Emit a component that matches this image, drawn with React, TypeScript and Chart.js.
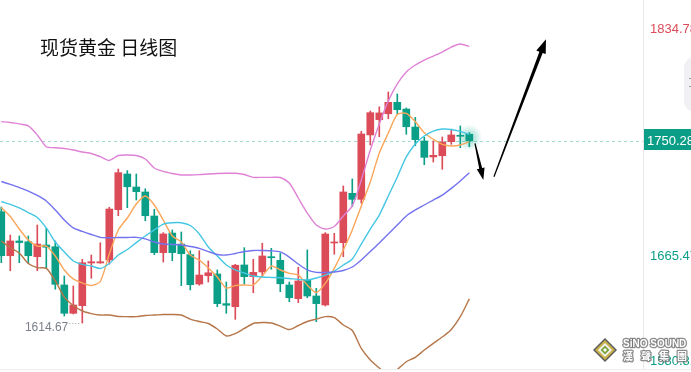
import React, { useEffect, useRef } from 'react';
import { Chart, registerables } from 'chart.js';

Chart.register(...registerables);

// ---- Data ----
const opens = [1697.6, 1664.8, 1675.8, 1675.2, 1664.1, 1672.8, 1671.5, 1643.0, 1621.9, 1627.6, 1659.4, 1659.4, 1661.6, 1699.1, 1725.7, 1716.0, 1712.3, 1694.4, 1667.1, 1681.7, 1673.5, 1665.6, 1643.7, 1649.9, 1651.2, 1629.1, 1626.8, 1657.9, 1649.2, 1652.7, 1664.1, 1661.4, 1643.0, 1632.8, 1646.7, 1634.8, 1628.1, 1674.3, 1674.5, 1711.3, 1706.8, 1754.8, 1766.2, 1770.6, 1779.1, 1774.1, 1760.7, 1750.3, 1738.4, 1739.3, 1749.8, 1754.5, 1755.3];
const closes = [1664.8, 1675.8, 1674.6, 1664.8, 1673.5, 1671.1, 1643.5, 1621.9, 1628.1, 1659.6, 1660.3, 1660.3, 1699.6, 1726.7, 1716.2, 1712.5, 1694.6, 1667.1, 1681.0, 1667.1, 1666.3, 1643.2, 1650.4, 1652.1, 1629.1, 1627.9, 1657.7, 1649.2, 1652.4, 1664.6, 1663.3, 1643.9, 1633.5, 1646.0, 1634.8, 1629.1, 1681.0, 1674.8, 1712.3, 1706.8, 1755.5, 1771.4, 1771.2, 1779.1, 1773.6, 1760.9, 1751.3, 1738.1, 1739.6, 1749.5, 1754.8, 1753.8, 1750.28];
const highs = [1701.1, 1680.2, 1679.5, 1679.5, 1687.7, 1685.2, 1675.8, 1649.7, 1642.2, 1662.1, 1665.3, 1674.5, 1700.9, 1729.4, 1728.2, 1725.7, 1714.7, 1699.4, 1682.0, 1684.0, 1682.5, 1668.5, 1668.5, 1660.9, 1654.2, 1645.2, 1658.4, 1670.8, 1662.1, 1674.1, 1670.3, 1666.6, 1645.2, 1656.2, 1669.1, 1640.5, 1682.0, 1681.5, 1716.8, 1722.0, 1757.5, 1772.6, 1775.8, 1786.8, 1785.3, 1774.9, 1767.9, 1753.0, 1750.3, 1753.3, 1759.0, 1761.5, 1756.5];
const lows = [1659.6, 1653.6, 1659.6, 1659.2, 1653.6, 1655.4, 1639.8, 1619.9, 1621.4, 1614.67, 1648.0, 1659.2, 1658.6, 1694.6, 1700.6, 1706.3, 1690.9, 1665.6, 1660.1, 1661.1, 1642.5, 1639.3, 1642.8, 1645.2, 1626.8, 1621.9, 1617.4, 1643.7, 1637.2, 1649.2, 1654.7, 1638.0, 1630.5, 1629.8, 1633.5, 1615.6, 1627.3, 1665.9, 1664.1, 1701.3, 1703.9, 1747.3, 1753.5, 1766.9, 1770.4, 1755.3, 1746.8, 1732.6, 1734.6, 1729.2, 1747.8, 1745.3, 1746.0];

const ma5 = [1700.7, 1694.0, 1684.7, 1676.5, 1672.0, 1672.0, 1664.6, 1654.2, 1647.5, 1644.5, 1642.6, 1645.6, 1666.1, 1684.0, 1692.9, 1703.3, 1709.3, 1702.6, 1691.4, 1679.5, 1675.0, 1665.3, 1661.6, 1655.7, 1648.9, 1640.7, 1642.6, 1643.0, 1643.0, 1649.7, 1657.1, 1654.2, 1651.7, 1650.4, 1643.0, 1637.4, 1644.2, 1655.4, 1669.1, 1684.0, 1701.9, 1719.7, 1741.3, 1756.2, 1770.0, 1770.9, 1764.7, 1756.5, 1751.6, 1747.8, 1746.6, 1747.3, 1749.8];
const ma10 = [1705.2, 1703.0, 1700.4, 1697.0, 1693.3, 1685.5, 1675.0, 1667.6, 1660.9, 1658.3, 1657.1, 1655.3, 1659.0, 1665.3, 1669.4, 1674.6, 1679.5, 1684.0, 1688.4, 1689.4, 1689.4, 1687.3, 1681.0, 1671.3, 1664.6, 1657.9, 1654.2, 1651.9, 1649.7, 1648.9, 1648.6, 1648.4, 1647.8, 1647.1, 1646.7, 1648.2, 1650.4, 1653.4, 1657.9, 1662.4, 1673.5, 1684.7, 1695.1, 1709.3, 1723.5, 1738.4, 1748.1, 1754.0, 1757.7, 1759.2, 1758.9, 1757.4, 1755.1];
const ma20 = [1720.1, 1717.9, 1715.6, 1713.0, 1709.7, 1705.6, 1698.9, 1691.4, 1685.5, 1682.9, 1680.6, 1678.5, 1678.2, 1678.4, 1678.4, 1678.5, 1677.3, 1675.0, 1673.5, 1673.2, 1672.8, 1671.7, 1670.3, 1667.9, 1665.7, 1665.3, 1666.5, 1667.9, 1668.7, 1668.7, 1668.5, 1667.6, 1663.8, 1658.6, 1654.2, 1652.4, 1652.3, 1652.7, 1653.8, 1656.4, 1661.6, 1667.9, 1674.3, 1681.0, 1687.7, 1694.4, 1698.9, 1702.6, 1706.3, 1710.0, 1715.0, 1720.5, 1726.7];
const bollUpper = [1764.7, 1764.1, 1763.0, 1761.5, 1754.8, 1746.0, 1745.3, 1744.7, 1743.6, 1742.1, 1741.0, 1738.6, 1735.8, 1739.5, 1739.9, 1739.5, 1736.9, 1730.2, 1727.6, 1726.1, 1725.0, 1725.0, 1725.2, 1725.7, 1726.1, 1726.2, 1726.2, 1725.3, 1723.2, 1723.2, 1723.2, 1723.1, 1719.0, 1707.8, 1696.6, 1687.7, 1684.7, 1686.6, 1694.4, 1701.9, 1721.2, 1743.6, 1763.0, 1780.1, 1792.8, 1801.7, 1806.9, 1810.6, 1813.6, 1816.6, 1820.3, 1822.6, 1820.7];
const bollLower = [1675.8, 1670.9, 1666.8, 1659.0, 1655.9, 1655.4, 1646.0, 1634.0, 1627.7, 1623.6, 1621.7, 1620.6, 1620.6, 1619.5, 1619.4, 1619.4, 1620.3, 1620.6, 1621.0, 1621.0, 1620.6, 1617.6, 1615.8, 1614.3, 1610.2, 1605.0, 1606.8, 1610.6, 1614.3, 1615.0, 1614.7, 1612.4, 1609.8, 1612.8, 1615.8, 1617.6, 1619.4, 1618.6, 1613.2, 1609.1, 1595.7, 1587.1, 1581.1, 1575.2, 1580.0, 1585.8, 1589.1, 1594.5, 1599.5, 1604.2, 1609.8, 1619.4, 1632.6];

const axisTickValues = [1834.78, 1665.47, 1580.81];
const lastPrice = 1750.28;
const lowMarkIndex = 9;
const lowMarkValue = 1614.67;
const titleText = '现货黄金 日线图';
// annotation arrows in (bar index, price) coordinates
const arrowFrom = [[52.63, 1748.6], [54.74, 1723.7]];
const arrowTo = [[53.56, 1721.2], [60.52, 1826.1]];

const RED = '#dc4b58';
const GREEN = '#0c9f87';
const FONT = '"Liberation Sans", Arial, sans-serif';

const candleColors = closes.map((c, i) => (c >= opens[i] ? RED : GREEN));

function drawArrow(ctx: CanvasRenderingContext2D, x0: number, y0: number, x1: number, y1: number, w0: number, w1: number, hl: number, hw: number) {
  const dx = x1 - x0, dy = y1 - y0;
  const len = Math.hypot(dx, dy);
  const ux = dx / len, uy = dy / len;
  const nx = -uy, ny = ux;
  const bx = x1 - ux * hl, by = y1 - uy * hl;
  ctx.beginPath();
  ctx.moveTo(x0 + nx * w0 / 2, y0 + ny * w0 / 2);
  ctx.lineTo(bx + nx * w1 / 2, by + ny * w1 / 2);
  ctx.lineTo(bx + nx * hw / 2, by + ny * hw / 2);
  ctx.lineTo(x1, y1);
  ctx.lineTo(bx - nx * hw / 2, by - ny * hw / 2);
  ctx.lineTo(bx - nx * w1 / 2, by - ny * w1 / 2);
  ctx.lineTo(x0 - nx * w0 / 2, y0 - ny * w0 / 2);
  ctx.closePath();
  ctx.fill();
}

const overlayPlugin = {
  id: 'overlay',
  beforeDatasetsDraw(chart: any) {
    const { ctx, chartArea, scales } = chart;
    const x = scales.x, y = scales.y;
    const py = Math.round(y.getPixelForValue(lastPrice)) + 0.5;
    ctx.save();
    ctx.strokeStyle = '#9ed8ce';
    ctx.lineWidth = 1;
    ctx.setLineDash([3, 3]);
    ctx.beginPath();
    ctx.moveTo(chartArea.left, py);
    ctx.lineTo(chartArea.right, py);
    ctx.stroke();
    ctx.setLineDash([]);
    const li = closes.length - 1;
    const gx = x.getPixelForValue(li);
    const gy = y.getPixelForValue((opens[li] + closes[li]) / 2);
    const g = ctx.createRadialGradient(gx, gy, 0, gx, gy, 13);
    g.addColorStop(0, 'rgba(12,170,140,0.45)');
    g.addColorStop(1, 'rgba(12,170,140,0)');
    ctx.fillStyle = g;
    ctx.beginPath();
    ctx.arc(gx, gy, 13, 0, Math.PI * 2);
    ctx.fill();
    ctx.restore();
  },
  afterDraw(chart: any) {
    const { ctx, chartArea, scales, width } = chart;
    const x = scales.x, y = scales.y;
    ctx.save();
    // bottom rule
    ctx.strokeStyle = '#ececec';
    ctx.lineWidth = 1;
    ctx.beginPath();
    ctx.moveTo(0, chartArea.bottom + 0.5);
    ctx.lineTo(width, chartArea.bottom + 0.5);
    ctx.stroke();

    // watermark (under the axis text)
    const cx = 605, cy = 350;
    const dia = (r: number, c: string) => {
      ctx.fillStyle = c;
      ctx.beginPath();
      ctx.moveTo(cx, cy - r);
      ctx.lineTo(cx + r, cy);
      ctx.lineTo(cx, cy + r);
      ctx.lineTo(cx - r, cy);
      ctx.closePath();
      ctx.fill();
    };
    dia(12, '#5a5a5a');
    dia(10, '#c9b24a');
    dia(7, '#f4f4f4');
    dia(4.5, '#7aa33a');
    dia(2, '#ffffff');

    // right axis labels
    ctx.font = `13px ${FONT}`;
    ctx.textAlign = 'left';
    ctx.textBaseline = 'middle';
    axisTickValues.forEach((v) => {
      const ly = Math.min(y.getPixelForValue(v) + 2, chartArea.bottom - 8);
      ctx.fillStyle = v > lastPrice ? RED : GREEN;
      ctx.fillText(v.toFixed(2), chartArea.right + 7, ly);
    });
    // current price box
    const py = y.getPixelForValue(lastPrice);
    ctx.fillStyle = '#0a9e86';
    ctx.fillRect(chartArea.right + 1, py - 12, width - chartArea.right, 21);
    ctx.fillStyle = '#ffffff';
    ctx.fillText(lastPrice.toFixed(2), chartArea.right + 4, py);

    // side tool button (partly visible)
    ctx.fillStyle = '#f1f1f3';
    ctx.beginPath();
    ctx.moveTo(width, 57);
    ctx.lineTo(687, 60);
    ctx.lineTo(684, 65);
    ctx.lineTo(684, 104);
    ctx.lineTo(687, 109);
    ctx.lineTo(width, 111);
    ctx.closePath();
    ctx.fill();
    ctx.fillStyle = '#9a9a9a';
    ctx.fillRect(689, 78, 2, 1);
    ctx.fillRect(689, 86, 2, 1);

    // title
    ctx.fillStyle = '#111111';
    ctx.font = '19px "Noto Sans CJK SC", sans-serif';
    ctx.textAlign = 'left';
    ctx.textBaseline = 'middle';
    ctx.fillText(titleText, 40, 48);

    // lowest-low mark
    const lx = x.getPixelForValue(lowMarkIndex);
    const lyv = y.getPixelForValue(lowMarkValue);
    ctx.strokeStyle = '#9aa0a8';
    ctx.setLineDash([1, 2]);
    ctx.beginPath();
    ctx.moveTo(lx - 13, Math.round(lyv) + 0.5);
    ctx.lineTo(lx - 1, Math.round(lyv) + 0.5);
    ctx.stroke();
    ctx.setLineDash([]);
    ctx.fillStyle = '#7b8089';
    ctx.font = `12px ${FONT}`;
    ctx.textAlign = 'right';
    ctx.fillText(lowMarkValue.toFixed(2), lx - 14, lyv + 4.5);

    // arrows
    ctx.fillStyle = '#000000';
    const a0f = arrowFrom[0], a0t = arrowTo[0];
    drawArrow(ctx, x.getPixelForValue(a0f[0]), y.getPixelForValue(a0f[1]), x.getPixelForValue(a0t[0]), y.getPixelForValue(a0t[1]), 1.2, 3, 12, 8);
    const a1f = arrowFrom[1], a1t = arrowTo[1];
    drawArrow(ctx, x.getPixelForValue(a1f[0]), y.getPixelForValue(a1f[1]), x.getPixelForValue(a1t[0]), y.getPixelForValue(a1t[1]), 1.2, 3.5, 14, 10);

    // watermark text
    ctx.textAlign = 'left';
    ctx.textBaseline = 'middle';
    ctx.font = `bold 10px ${FONT}`;
    ctx.lineWidth = 2.5;
    ctx.lineJoin = 'round';
    ctx.strokeStyle = 'rgba(110,110,110,0.8)';
    ctx.fillStyle = '#ffffff';
    ctx.strokeText('SiNO SOUND', 623, 344);
    ctx.fillText('SiNO SOUND', 623, 344);
    ctx.font = 'bold 10px "Noto Sans CJK TC", sans-serif';
    ['漢', '聲', '集', '團'].forEach((ch, k) => {
      ctx.strokeText(ch, 623 + k * 18, 356);
      ctx.fillText(ch, 623 + k * 18, 356);
    });
    ctx.restore();
  },
};

function lineDs(label: string, values: number[], color: string) {
  return {
    type: 'line' as const,
    label,
    data: values.map((v, i) => ({ x: i, y: v })),
    borderColor: color,
    borderWidth: 1.4,
    pointRadius: 0,
    tension: 0.25,
    fill: false,
    order: 0,
  };
}

export default function App() {
  const ref = useRef<HTMLCanvasElement>(null);
  useEffect(() => {
    document.body.style.margin = '0';
    const chart = new Chart(ref.current as HTMLCanvasElement, {
      type: 'bar',
      data: {
        datasets: [
          lineDs('BOLL UP', bollUpper, '#df82d6'),
          lineDs('BOLL DN', bollLower, '#b67649'),
          lineDs('MA20', ma20, '#7373ef'),
          lineDs('MA10', ma10, '#45c7e4'),
          lineDs('MA5', ma5, '#fba65a'),
          {
            type: 'bar',
            label: 'wick',
            data: highs.map((h, i) => ({ x: i, y: [lows[i], h] })) as any,
            backgroundColor: candleColors,
            barThickness: 1,
            grouped: false,
            order: 3,
          },
          {
            type: 'bar',
            label: 'body',
            data: opens.map((o, i) => ({ x: i, y: [o, closes[i]] })) as any,
            backgroundColor: candleColors,
            barThickness: 7,
            minBarLength: 1,
            grouped: false,
            order: 2,
          },
        ] as any,
      },
      options: {
        animation: false,
        responsive: false,
        devicePixelRatio: 1,
        events: [],
        layout: { padding: { bottom: 3, left: 0, right: 0, top: 0 } },
        plugins: { legend: { display: false }, tooltip: { enabled: false }, title: { display: false } },
        scales: {
          x: { type: 'linear', display: false, min: -0.144, max: 71.3, offset: false },
          y: {
            type: 'linear',
            position: 'right',
            min: 1580.39,
            max: 1855.35,
            grid: { display: false, drawTicks: false },
            border: { display: true, color: '#e8e8e8' },
            ticks: { display: false },
            afterFit: (s: any) => { s.width = 48; },
          },
        },
      } as any,
      plugins: [overlayPlugin],
    });
    return () => chart.destroy();
  }, []);
  return (
    <div style={{ position: 'fixed', left: 0, top: 0, width: 691, height: 372, background: '#ffffff' }}>
      <canvas ref={ref} width={691} height={372} style={{ display: 'block', width: 691, height: 372 }} />
    </div>
  );
}
